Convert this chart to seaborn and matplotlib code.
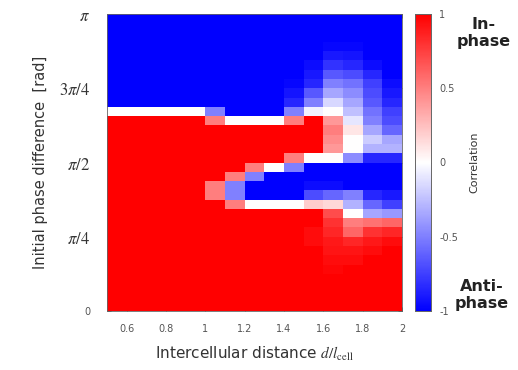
import numpy as np
import pandas as pd
import matplotlib
matplotlib.use("Agg")
import matplotlib.pyplot as plt
import seaborn as sns
from matplotlib.colors import LinearSegmentedColormap

# ---- data -------------------------------------------------------------
# cell-centre intercellular distances d/l_cell (columns)
distance = [0.55, 0.65, 0.75, 0.85, 0.95, 1.05, 1.15, 1.25,
            1.35, 1.45, 1.55, 1.65, 1.75, 1.85, 1.95]
n_phase = 32                      # rows, from phase = pi (top) to 0 (bottom)

# correlation, one row per initial phase bin (top = pi)
correlation = [
    [-1, -1, -1, -1, -1, -1, -1, -1, -1, -1, -1, -1, -1, -1, -1],
    [-1, -1, -1, -1, -1, -1, -1, -1, -1, -1, -1, -1, -1, -1, -1],
    [-1, -1, -1, -1, -1, -1, -1, -1, -1, -1, -1, -1, -1, -1, -1],
    [-1, -1, -1, -1, -1, -1, -1, -1, -1, -1, -1, -.97, -.97, -1, -1],
    [-1, -1, -1, -1, -1, -1, -1, -1, -1, -1, -1, -.9, -.92, -1, -1],
    [-1, -1, -1, -1, -1, -1, -1, -1, -1, -1, -.95, -.8, -.85, -.95, -1],
    [-1, -1, -1, -1, -1, -1, -1, -1, -1, -1, -.9, -.65, -.7, -.85, -1],
    [-1, -1, -1, -1, -1, -1, -1, -1, -1, -.97, -.85, -.5, -.55, -.75, -.95],
    [-1, -1, -1, -1, -1, -1, -1, -1, -1, -.92, -.65, -.35, -.45, -.7, -.9],
    [-1, -1, -1, -1, -1, -1, -1, -1, -1, -.85, -.5, -.15, -.35, -.65, -.85],
    [0, 0, 0, 0, 0, -.5, -1, -1, -1, -.5, -.05, 0, -.25, -.55, -.75],
    [1, 1, 1, 1, 1, .5, 0, 0, 0, .5, 1, .4, -.1, -.5, -.7],
    [1, 1, 1, 1, 1, 1, 1, 1, 1, 1, 1, .5, .1, -.35, -.6],
    [1, 1, 1, 1, 1, 1, 1, 1, 1, 1, 1, .45, 0, -.2, -.35],
    [1, 1, 1, 1, 1, 1, 1, 1, 1, 1, 1, .4, 0, -.3, -.3],
    [1, 1, 1, 1, 1, 1, 1, 1, 1, .5, 0, 0, -.45, -.85, -.85],
    [1, 1, 1, 1, 1, 1, 1, .5, 0, -.5, -1, -1, -1, -1, -1],
    [1, 1, 1, 1, 1, 1, .5, -.5, -1, -1, -1, -1, -1, -1, -1],
    [1, 1, 1, 1, 1, .5, -.5, -1, -1, -1, -.95, -.95, -1, -1, -1],
    [1, 1, 1, 1, 1, .5, -.5, -1, -1, -1, -.7, -.6, -.5, -.85, -.9],
    [1, 1, 1, 1, 1, 1, .5, 0, 0, 0, .2, .15, -.3, -.6, -.75],
    [1, 1, 1, 1, 1, 1, 1, 1, 1, 1, 1, .7, 0, -.35, -.4],
    [1, 1, 1, 1, 1, 1, 1, 1, 1, 1, 1, .8, .5, .55, .6],
    [1, 1, 1, 1, 1, 1, 1, 1, 1, 1, .95, .85, .6, .8, .85],
    [1, 1, 1, 1, 1, 1, 1, 1, 1, 1, .95, .9, .85, .9, .95],
    [1, 1, 1, 1, 1, 1, 1, 1, 1, 1, 1, .92, .92, .95, 1],
    [1, 1, 1, 1, 1, 1, 1, 1, 1, 1, 1, .95, .95, 1, 1],
    [1, 1, 1, 1, 1, 1, 1, 1, 1, 1, 1, .97, 1, 1, 1],
    [1, 1, 1, 1, 1, 1, 1, 1, 1, 1, 1, 1, 1, 1, 1],
    [1, 1, 1, 1, 1, 1, 1, 1, 1, 1, 1, 1, 1, 1, 1],
    [1, 1, 1, 1, 1, 1, 1, 1, 1, 1, 1, 1, 1, 1, 1],
    [1, 1, 1, 1, 1, 1, 1, 1, 1, 1, 1, 1, 1, 1, 1],
]

x_ticks = [0.6, 0.8, 1.0, 1.2, 1.4, 1.6, 1.8, 2.0]
x_tick_labels = ["0.6", "0.8", "1", "1.2", "1.4", "1.6", "1.8", "2"]
y_ticks = [np.pi, 3 * np.pi / 4, np.pi / 2, np.pi / 4, 0.0]
y_tick_labels = [r"$\pi$", r"$3\pi/4$", r"$\pi/2$", r"$\pi/4$", "0"]
cbar_ticks = [1, 0.5, 0, -0.5, -1]
cbar_tick_labels = ["1", "0.5", "0", "-0.5", "-1"]

# ---- figure -----------------------------------------------------------
sns.set_theme(style="white")
plt.rcParams["font.family"] = ["DejaVu Sans"]
plt.rcParams["mathtext.fontset"] = "stix"

fig = plt.figure(figsize=(5.18, 3.70), dpi=100)
ax = fig.add_axes([107 / 518, 1 - 311 / 370, 295 / 518, 297 / 370])
cax = fig.add_axes([415 / 518, 1 - 311 / 370, 16 / 518, 297 / 370])

phase_step = np.pi / n_phase
phase_centres = [np.pi - (i + 0.5) * phase_step for i in range(n_phase)]
df = pd.DataFrame(correlation, index=phase_centres, columns=distance)

cmap = LinearSegmentedColormap.from_list("corr", ["#0000ff", "#ffffff", "#ff0000"])
sns.heatmap(df, cmap=cmap, vmin=-1, vmax=1, ax=ax, cbar_ax=cax,
            xticklabels=False, yticklabels=False,
            cbar_kws={"ticks": cbar_ticks})

dx = distance[1] - distance[0]
ax.set_xticks([(v - distance[0]) / dx + 0.5 for v in x_ticks])
ax.set_xticklabels(x_tick_labels, fontsize=7, color="#555555")
ax.set_yticks([(np.pi - v) / phase_step for v in y_ticks])
ylabs = ax.set_yticklabels(y_tick_labels, fontsize=12, color="#333333")
ylabs[-1].set_fontsize(7)
ylabs[-1].set_color("#555555")
ax.tick_params(axis="x", direction="in", length=3, width=0.6, pad=9,
               bottom=True, top=True, color="#333333")
ax.tick_params(axis="y", direction="in", length=3, width=0.6, pad=12,
               left=True, right=True, color="#333333")
for s in ax.spines.values():
    s.set_visible(True)
    s.set_linewidth(0.6)
    s.set_color("#666666")

ax.set_xlabel(r"Intercellular distance $d/l_{\mathrm{cell}}$", fontsize=11,
              color="#333333", labelpad=8)
ax.set_ylabel("Initial phase difference  [rad]", fontsize=10.5,
              color="#333333", labelpad=8)

cax.set_yticklabels(cbar_tick_labels, fontsize=7, color="#555555")
cax.tick_params(direction="in", length=3, width=0.6, pad=6, color="#333333")
cax.set_ylabel("Correlation", fontsize=8, color="#333333", labelpad=8)
for s in cax.spines.values():
    s.set_visible(True)
    s.set_linewidth(0.6)
    s.set_color("#666666")

fig.text(484 / 518, 1 - 33 / 370, "In-\nphase", ha="center", va="center",
         fontsize=11.5, fontweight="bold", color="#222222", linespacing=1.1)
fig.text(482 / 518, 1 - 295 / 370, "Anti-\nphase", ha="center", va="center",
         fontsize=11.5, fontweight="bold", color="#222222", linespacing=1.1)

fig.savefig("out.png", dpi=100)
